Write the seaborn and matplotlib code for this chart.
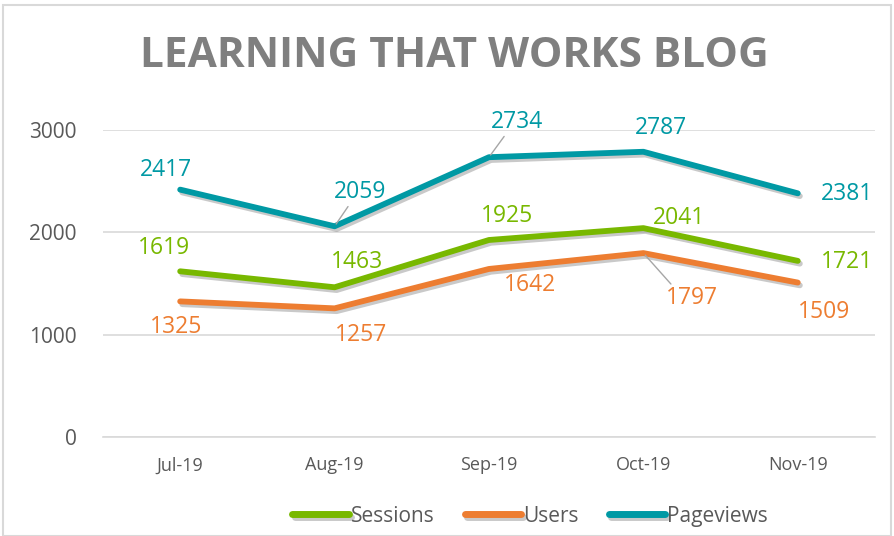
import matplotlib
matplotlib.use("Agg")
import pandas as pd
import seaborn as sns
import matplotlib.pyplot as plt
import matplotlib.patheffects as pe
from matplotlib.patches import Rectangle

months = ["Jul-19", "Aug-19", "Sep-19", "Oct-19", "Nov-19"]
sessions = [1619, 1463, 1925, 2041, 1721]
users = [1325, 1257, 1642, 1797, 1509]
pageviews = [2417, 2059, 2734, 2787, 2381]
names = ["Sessions", "Users", "Pageviews"]
colors = ["#78B800", "#ED7D31", "#0099A4"]

# label offsets in pixels (dx, dy) for each point
offsets = {
    "Pageviews": [(-14, 20), (25, 34), (28, 35), (18, 24), (49, -1)],
    "Sessions": [(-16, 23), (22, 25), (18, 24), (36, 10), (49, -1)],
    "Users": [(-4, -26), (26, -27), (41, -16), (49, -45), (26, -29)],
}
leaders = {("Pageviews", 1), ("Pageviews", 2), ("Users", 3)}

src = [sessions, users, pageviews]
data = {'month': [], 'value': [], 'series': []}
for n, s in zip(names, src):
    for m, v in zip(months, s):
        data['month'].append(m)
        data['value'].append(v)
        data['series'].append(n)
data = pd.DataFrame(data)

sns.set_style("white")
plt.rcParams['font.family'] = ['Open Sans', 'DejaVu Sans']

fig = plt.figure(figsize=(8.94, 5.36), dpi=100)
ax = fig.add_axes([0.1152, 0.1847, 0.8635, 0.5728])

sns.lineplot(data=data, x='month', y='value', hue='series', hue_order=names,
             palette=colors, linewidth=4.2, ax=ax, sort=False)
for line in ax.lines:
    line.set_solid_capstyle('round')
    line.set_solid_joinstyle('round')
    line.set_path_effects([pe.SimpleLineShadow(offset=(1.5, -2), shadow_color='#888888', alpha=0.45),
                           pe.Normal()])

for n, s, c in zip(names, src, colors):
    for i, v in enumerate(s):
        dx, dy = offsets[n][i]
        ax.annotate(str(v), xy=(i, v), xytext=(dx, dy), textcoords='offset pixels',
                    ha='center', va='center', fontsize=16.5, color=c)
        if (n, i) in leaders:
            ax.annotate("", xy=(i, v), xytext=(dx * 0.6, dy - 12 if dy > 0 else dy + 12),
                        textcoords='offset pixels',
                        arrowprops=dict(arrowstyle='-', color='#A6A6A6', lw=1))

ax.set_ylim(0, 3000)
ax.set_xlim(-0.5, 4.5)
ax.set_yticks([0, 1000, 2000, 3000])
ax.yaxis.grid(True, color='#D9D9D9', linewidth=1.2)
ax.set_axisbelow(True)
for sp in ['top', 'right', 'left']:
    ax.spines[sp].set_visible(False)
ax.spines['bottom'].set_color('#D9D9D9')
ax.spines['bottom'].set_linewidth(1.2)
ax.tick_params(axis='y', length=0, labelsize=15, labelcolor='#595959', pad=19)
ax.tick_params(axis='x', which='major', length=0, labelsize=13, labelcolor='#595959', pad=14)
ax.set_xticks([-0.5, 0.5, 1.5, 2.5, 3.5, 4.5], minor=True)
ax.tick_params(axis='x', which='minor', length=6, color='#D9D9D9', width=1.2)
ax.set_xlabel('')
ax.set_ylabel('')

handles, labels = ax.get_legend_handles_labels()
leg = ax.legend(handles, labels, loc='center', bbox_to_anchor=(0.593, 0.037),
                bbox_transform=fig.transFigure, ncol=3, frameon=False,
                fontsize=15, handlelength=2.7, handletextpad=0.1, columnspacing=1.45)
for t in leg.get_texts():
    t.set_color('#595959')
for h in leg.legend_handles:
    h.set_linewidth(5)
    h.set_solid_capstyle('round')

fig.text(0.508, 0.894, "LEARNING THAT WORKS BLOG", ha='center', va='center',
         fontsize=30.5, fontweight='bold', color='#7F7F7F')

fig.patches.append(Rectangle((0.003, 0.0), 0.994, 0.99, transform=fig.transFigure,
                             fill=False, edgecolor='#D9D9D9', linewidth=1.5))

fig.savefig("out.png", dpi=100)
